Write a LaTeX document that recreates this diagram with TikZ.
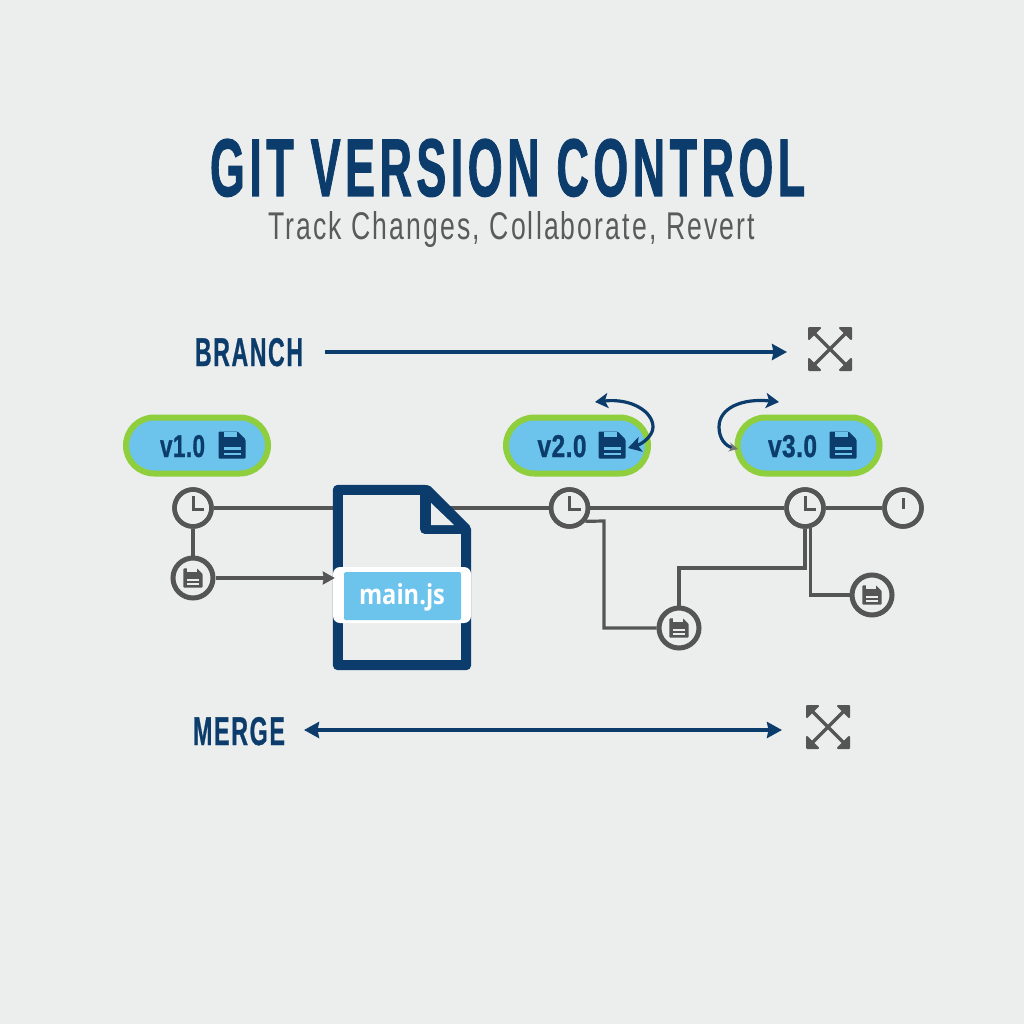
\documentclass[tikz,border=0pt]{standalone}
\usepackage{fontspec}
\usepackage{graphicx}
\usetikzlibrary{arrows.meta,calc}
\setmainfont{Liberation Sans}
\newfontfamily\heavy[BoldFeatures={FakeBold=1.6,LetterSpace=10}]{Liberation Sans}
\newfontfamily\midheavy[BoldFeatures={FakeBold=1,LetterSpace=7}]{Liberation Sans}
\newfontfamily\smallheavy[BoldFeatures={FakeBold=1,LetterSpace=2}]{Liberation Sans}
\newfontfamily\lightcond[LetterSpace=8]{Liberation Sans}
\newfontfamily\labelfont{Open Sans}
\definecolor{bgc}{HTML}{ECEDED}
\definecolor{navy}{HTML}{0B3C6B}
\definecolor{greyline}{HTML}{555555}
\definecolor{subgrey}{HTML}{5A5A5A}
\definecolor{pillblue}{HTML}{6CC3EC}
\definecolor{pillgreen}{HTML}{8FCE3C}
\newcommand{\fit}[3]{\resizebox{#1pt}{#2pt}{#3}}
\tikzset{
  txt/.style={inner sep=0pt,outer sep=0pt,anchor=base west},
  pillbox/.style={draw=pillgreen,fill=pillblue,line width=6pt,minimum width=142pt,minimum height=56pt,rounded corners=28pt,inner sep=0pt},
  clocknode/.style={circle,draw=greyline,fill=bgc,line width=4.5pt,minimum size=37pt,inner sep=0pt},
  docnode/.style={circle,draw=greyline,fill=bgc,line width=5pt,minimum size=40pt,inner sep=0pt},
  mainline/.style={draw=greyline,line width=4.5pt},
  thinline/.style={draw=greyline,line width=3.2pt},
  longarrow/.style={draw=navy,line width=3.5pt},
  swoosh/.style={draw=navy,line width=3.2pt},
  hand/.style={draw=greyline,line width=3pt},
  bighead/.style={Stealth[length=15pt,width=16pt,inset=1.5pt]},
  pics/saveicon/.style 2 args={code={
    \fill[#1,rounded corners=1pt] (-13.5,-13.5) -- (5.5,-13.5) -- (13.5,-5.5) -- (13.5,13.5) -- (-13.5,13.5) -- cycle;
    \fill[#2] (-8.5,-13.5) rectangle (5,-8.5);
    \fill[#2] (-8.5,1.5) rectangle (8.5,4.5);
    \fill[#2] (-8.5,7.5) rectangle (8.5,10);
  }},
  pics/crossicon/.style={code={
    \draw[greyline,line width=3.5pt] (-19,-19) -- (19,19) (-19,19) -- (19,-19);
    \foreach \sx/\sy in {-1/-1,1/-1,-1/1,1/1}{
      \fill[greyline,draw=greyline,line width=2pt,line join=round]
        (\sx*21,\sy*21) -- (\sx*10,\sy*21) -- (\sx*21,\sy*10) -- cycle;
    }
  }},
}
\begin{document}
\begin{tikzpicture}[x=1pt,y=-1pt]
\useasboundingbox (0,0) rectangle (1024,1024);
\fill[bgc] (0,0) rectangle (1024,1024);

% titles
\node[txt,text=navy] (title) at (210,196) {\fit{595}{57}{\heavy\bfseries GIT VERSION CONTROL}};
\node[txt,text=subgrey] (subtitle) at (268,240) {\fit{487}{28}{\lightcond Track Changes, Collaborate, Revert}};

% branch row
\node[txt,text=navy] (branchlabel) at (195,366) {\fit{108}{28}{\midheavy\bfseries BRANCH}};
\coordinate (bstart) at (325,352);
\coordinate (bend) at (787,352);
\draw[longarrow,-{Stealth[length=15pt,width=16pt,inset=1.5pt]}] (bstart) -- (bend);
\node[inner sep=0pt,minimum size=44pt] (crossA) at (830,349) {};
\pic at (crossA) {crossicon};

% merge row
\node[txt,text=navy] (mergelabel) at (193,745) {\fit{92}{28}{\midheavy\bfseries MERGE}};
\coordinate (mstart) at (304,730);
\coordinate (mend) at (782,730);
\draw[longarrow,{Stealth[length=15pt,width=16pt,inset=1.5pt]}-{Stealth[length=15pt,width=16pt,inset=1.5pt]}] (mstart) -- (mend);
\node[inner sep=0pt,minimum size=44pt] (crossB) at (828,727) {};
\pic at (crossB) {crossicon};

% timeline nodes
\node[clocknode] (c1) at (193,508) {};
\node[clocknode] (c2) at (569.5,508) {};
\node[clocknode] (c3) at (805,508) {};
\node[clocknode] (c4) at (903,508) {};
\node[docnode] (d1) at (193,578) {};
\node[docnode] (d2) at (679,628) {};
\node[docnode] (d3) at (872,595) {};

\foreach \c in {c1,c2,c3}{
  \draw[hand] ($(\c)+(0,-12)$) -- ($(\c)+(0,1.5)$) -- ($(\c)+(11,1.5)$);
}
\draw[hand] ($(c4)+(0,-10)$) -- ($(c4)+(0,1)$);
\foreach \d in {d1,d2,d3}{
  \pic[scale=.72] at (\d) {saveicon={greyline}{bgc}};
}

% connectors
\draw[mainline] (c1) -- (c2);
\draw[mainline] (c2) -- (c3);
\draw[mainline] (c3) -- (c4);
\draw[thinline] (c1) -- (d1);
\coordinate (bx) at (604,521);
\draw[thinline,line join=miter] (c2.-40) -- (bx) |- (d2);
\coordinate (turn) at (679,568);
\draw[thinline] (d2.north) -- (turn) -| (c3.south);
\coordinate (dropx) at (810.5,528);
\draw[thinline] (dropx) |- (d3);
\node[clocknode,fill=none] at (c1) {};
\node[clocknode,fill=none] at (c2) {};
\node[clocknode,fill=none] at (c3) {};
\node[clocknode,fill=none] at (c4) {};

% file
\node[inner sep=0pt,minimum width=128pt,minimum height=175pt] (file) at (402,577.5) {};
\draw[navy,fill=bgc,line width=10pt,line join=round]
  (file.north west) -- (427,490) -- (466,529) -- (file.south east) -- (file.south west) -- cycle;
\fill[navy] (425,490) -- (466,529) -- (425,529) -- cycle;
\draw[navy,line width=10pt,line join=round] (425,490) -- (425,529) -- (466,529);
\fill[bgc] (431,503) -- (454,525) -- (431,525) -- cycle;

% main.js label
\fill[white,rounded corners=7pt] (333,567) rectangle (471,623);
\node[fill=pillblue,minimum width=117pt,minimum height=48pt,inner sep=0pt,rounded corners=1.5pt] (mainjs) at (402.5,596) {};
\node[txt,text=white] (mainjstext) at (359,604) {\fit{86}{21}{\labelfont\bfseries main.js}};
\draw[thinline,shorten >=3pt,-{Stealth[length=12pt,width=13pt,inset=1pt]}] (d1) -- (d1 -| file.west);

% version pills
\node[pillbox] (p1) at (197,445.5) {};
\node[pillbox] (p2) at (577,445.5) {};
\node[pillbox] (p3) at (808.5,445.5) {};
\node[txt,text=navy] (v1) at (160,457) {\fit{45}{22}{\smallheavy\bfseries v1.0}};
\node[txt,text=navy] (v2) at (537.5,457) {\fit{49}{22}{\smallheavy\bfseries v2.0}};
\node[txt,text=navy] (v3) at (768,457) {\fit{49}{22}{\smallheavy\bfseries v3.0}};
\pic at (232,445) {saveicon={navy}{pillblue}};
\pic at (612,445) {saveicon={navy}{pillblue}};
\pic at (843,445) {saveicon={navy}{pillblue}};

% swoosh arrows
\coordinate (s1a) at (595,402);
\coordinate (s1b) at (628,448);
\draw[swoosh,{Stealth[length=13pt,width=15pt,inset=3pt]}-{Stealth[length=13pt,width=15pt,inset=3pt]}]
  (s1a) .. controls (632,398) and (653,412) .. (653,427) .. controls (653,436) and (642,444) .. (s1b);
\coordinate (s2a) at (779,402);
\coordinate (s2b) at (738,449);
\draw[swoosh,{Stealth[length=13pt,width=15pt,inset=3pt]}-{Stealth[length=9pt,width=9pt,color=greyline!80]}]
  (s2a) .. controls (742,398) and (719,408) .. (719,427) .. controls (719,438) and (725,446) .. (s2b);
\end{tikzpicture}
\end{document}
